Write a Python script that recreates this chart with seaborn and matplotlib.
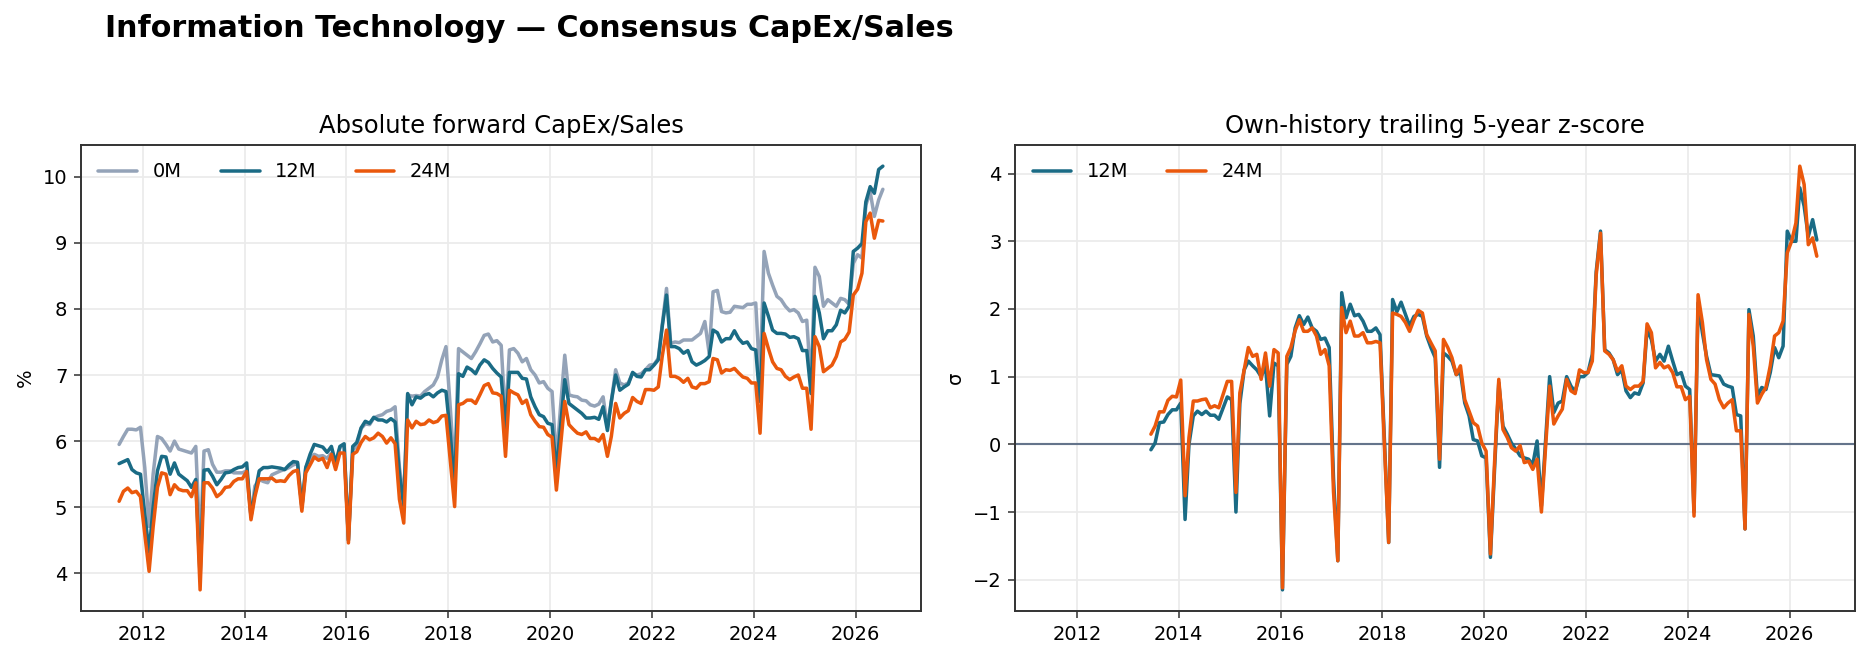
import pandas as pd
import matplotlib
matplotlib.use("Agg")
import matplotlib.pyplot as plt
import matplotlib.dates as mdates
import seaborn as sns

# monthly observations, mid-month, Jul-2011 .. Jul-2026 (one row = 12 months from July)
start = "2011-07-01"
n_months = 181
z_start_idx = 23  # trailing z-score needs 2 years of history -> Jun-2013

capex_0m = [
    5.95, 6.07, 6.18, 6.18, 6.17, 6.21, 5.60, 4.71, 5.50, 6.07, 6.04, 5.95,
    5.85, 6.00, 5.88, 5.86, 5.84, 5.82, 5.92, 4.40, 5.85, 5.87, 5.65, 5.53,
    5.53, 5.55, 5.55, 5.52, 5.52, 5.52, 5.55, 4.86, 5.32, 5.42, 5.39, 5.37,
    5.49, 5.52, 5.55, 5.57, 5.60, 5.64, 5.66, 5.00, 5.60, 5.74, 5.80, 5.77,
    5.78, 5.74, 5.82, 5.62, 5.90, 5.95, 4.50, 5.87, 5.92, 6.19, 6.26, 6.25,
    6.35, 6.38, 6.40, 6.45, 6.47, 6.52, 5.60, 5.12, 6.70, 6.68, 6.69, 6.68,
    6.75, 6.80, 6.85, 6.97, 7.23, 7.43, 6.50, 5.50, 7.40, 7.35, 7.30, 7.25,
    7.35, 7.47, 7.60, 7.62, 7.50, 7.52, 7.45, 6.30, 7.38, 7.40, 7.33, 7.20,
    7.25, 7.08, 7.00, 6.88, 6.90, 6.80, 6.75, 5.70, 6.50, 7.30, 6.70, 6.68,
    6.67, 6.62, 6.61, 6.55, 6.53, 6.56, 6.67, 6.21, 6.60, 7.08, 6.88, 6.85,
    6.88, 7.03, 7.00, 7.02, 7.08, 7.15, 7.16, 7.25, 7.75, 8.31, 7.48, 7.50,
    7.49, 7.53, 7.53, 7.53, 7.58, 7.63, 7.81, 7.33, 8.26, 8.28, 7.96, 7.94,
    7.95, 8.04, 8.03, 8.02, 8.07, 8.07, 8.09, 6.90, 8.87, 8.54, 8.36, 8.19,
    8.14, 8.04, 7.97, 7.99, 7.94, 7.81, 7.83, 6.85, 8.63, 8.49, 8.04, 8.14,
    8.09, 8.04, 8.16, 8.14, 8.07, 8.69, 8.82, 8.77, 9.57, 9.77, 9.40, 9.65,
    9.81,
]

capex_12m = [
    5.66, 5.69, 5.72, 5.57, 5.52, 5.50, 4.90, 4.32, 5.00, 5.55, 5.77, 5.76,
    5.50, 5.67, 5.50, 5.45, 5.40, 5.30, 5.42, 3.95, 5.56, 5.57, 5.47, 5.34,
    5.42, 5.52, 5.53, 5.57, 5.60, 5.61, 5.67, 4.86, 5.21, 5.55, 5.60, 5.60,
    5.61, 5.60, 5.59, 5.57, 5.64, 5.69, 5.68, 5.00, 5.60, 5.80, 5.95, 5.93,
    5.91, 5.83, 5.92, 5.67, 5.92, 5.96, 4.50, 5.92, 5.98, 6.20, 6.30, 6.27,
    6.36, 6.32, 6.32, 6.29, 6.34, 6.29, 5.50, 5.01, 6.72, 6.55, 6.67, 6.65,
    6.70, 6.72, 6.67, 6.73, 6.77, 6.75, 6.10, 5.30, 7.02, 6.98, 7.12, 7.08,
    7.02, 7.15, 7.23, 7.19, 7.10, 7.03, 6.97, 6.20, 7.04, 7.04, 7.04, 6.95,
    6.94, 6.67, 6.52, 6.40, 6.37, 6.27, 6.25, 5.55, 6.20, 6.93, 6.57, 6.52,
    6.47, 6.42, 6.35, 6.35, 6.36, 6.33, 6.52, 6.16, 6.60, 7.00, 6.77, 6.82,
    6.86, 7.04, 6.98, 6.97, 7.08, 7.08, 7.15, 7.23, 7.73, 8.21, 7.43, 7.43,
    7.40, 7.33, 7.37, 7.20, 7.15, 7.18, 7.22, 7.28, 7.68, 7.64, 7.50, 7.55,
    7.55, 7.67, 7.55, 7.48, 7.50, 7.40, 7.38, 6.60, 8.09, 7.89, 7.68, 7.63,
    7.63, 7.62, 7.57, 7.58, 7.55, 7.37, 7.37, 6.72, 8.19, 7.94, 7.55, 7.67,
    7.67, 7.76, 7.98, 7.94, 8.04, 8.87, 8.92, 8.99, 9.62, 9.85, 9.75, 10.11,
    10.16,
]

capex_24m = [
    5.09, 5.24, 5.29, 5.22, 5.24, 5.16, 4.60, 4.03, 4.70, 5.30, 5.52, 5.50,
    5.19, 5.34, 5.27, 5.25, 5.25, 5.16, 5.37, 3.75, 5.37, 5.37, 5.29, 5.16,
    5.21, 5.30, 5.31, 5.39, 5.43, 5.43, 5.54, 4.81, 5.16, 5.43, 5.43, 5.43,
    5.44, 5.39, 5.40, 5.39, 5.48, 5.54, 5.56, 4.94, 5.52, 5.64, 5.76, 5.71,
    5.74, 5.60, 5.80, 5.57, 5.82, 5.82, 4.46, 5.80, 5.84, 5.98, 6.07, 6.02,
    6.05, 6.12, 6.07, 5.97, 6.05, 5.96, 5.12, 4.76, 6.32, 6.20, 6.30, 6.25,
    6.26, 6.32, 6.28, 6.30, 6.38, 6.39, 5.70, 5.01, 6.55, 6.57, 6.62, 6.62,
    6.57, 6.70, 6.84, 6.87, 6.73, 6.72, 6.68, 5.77, 6.77, 6.73, 6.70, 6.57,
    6.62, 6.40, 6.30, 6.22, 6.21, 6.10, 6.06, 5.26, 5.90, 6.60, 6.25, 6.18,
    6.12, 6.10, 6.14, 6.04, 6.04, 6.00, 6.10, 5.77, 6.07, 6.57, 6.35, 6.42,
    6.46, 6.66, 6.60, 6.57, 6.78, 6.78, 6.77, 6.82, 7.28, 7.68, 6.98, 6.98,
    6.95, 6.89, 6.95, 6.82, 6.80, 6.87, 6.87, 6.90, 7.25, 7.23, 7.03, 7.08,
    7.07, 7.10, 7.03, 6.97, 6.95, 6.88, 6.88, 6.12, 7.63, 7.40, 7.20, 7.10,
    7.08, 6.98, 6.93, 6.97, 7.00, 6.80, 6.80, 6.18, 7.58, 7.43, 7.05, 7.10,
    7.15, 7.28, 7.50, 7.54, 7.65, 8.21, 8.30, 8.54, 9.32, 9.45, 9.07, 9.34,
    9.33,
]

# own-history trailing 5y z-score, Jun-2013 .. Jul-2026
zscore_12m = [
    -0.08, 0.02, 0.32, 0.33, 0.44, 0.51, 0.51, 0.61, -1.11, 0.00, 0.42, 0.49,
    0.44, 0.49, 0.43, 0.43, 0.37, 0.54, 0.70, 0.66, -1.00, 0.60, 1.10, 1.23,
    1.16, 1.10, 1.00, 1.16, 0.42, 1.20, 1.16, -2.15, 1.18, 1.30, 1.72, 1.90,
    1.77, 1.88, 1.72, 1.67, 1.55, 1.57, 1.43, -0.50, -1.72, 2.24, 1.87, 2.07,
    1.90, 1.92, 1.82, 1.67, 1.67, 1.72, 1.62, 0.10, -1.45, 2.14, 1.96, 2.10,
    1.92, 1.75, 1.89, 1.92, 1.89, 1.60, 1.43, 1.28, -0.34, 1.35, 1.30, 1.23,
    1.03, 1.06, 0.61, 0.42, 0.07, 0.05, -0.17, -0.20, -1.67, -0.40, 0.91, 0.27,
    0.15, 0.02, -0.07, -0.17, -0.20, -0.22, -0.30, 0.05, -0.91, 0.00, 1.00, 0.47,
    0.61, 0.64, 1.00, 0.86, 0.78, 1.00, 1.00, 1.06, 1.33, 2.55, 3.15, 1.40,
    1.35, 1.25, 1.03, 1.10, 0.79, 0.69, 0.76, 0.74, 0.91, 1.70, 1.55, 1.23,
    1.33, 1.23, 1.45, 1.23, 1.03, 1.06, 0.86, 0.81, -1.00, 2.09, 1.65, 1.30,
    1.03, 1.02, 1.01, 0.89, 0.86, 0.84, 0.44, 0.42, -1.25, 1.99, 1.60, 0.71,
    0.84, 0.81, 1.06, 1.43, 1.28, 1.45, 3.15, 3.00, 3.00, 3.79, 3.52, 3.07,
    3.32, 3.02,
]

zscore_24m = [
    0.15, 0.27, 0.48, 0.48, 0.65, 0.71, 0.70, 0.95, -0.76, 0.10, 0.64, 0.64,
    0.66, 0.67, 0.54, 0.57, 0.54, 0.74, 0.93, 0.93, -0.71, 0.76, 1.10, 1.43,
    1.30, 1.33, 0.96, 1.35, 0.86, 1.40, 1.35, -2.12, 1.30, 1.43, 1.68, 1.84,
    1.67, 1.67, 1.72, 1.60, 1.33, 1.40, 1.16, -0.70, -1.72, 2.02, 1.65, 1.82,
    1.60, 1.60, 1.65, 1.50, 1.50, 1.52, 1.50, 0.00, -1.45, 1.94, 1.92, 1.89,
    1.80, 1.67, 1.84, 1.98, 1.94, 1.62, 1.50, 1.38, -0.22, 1.55, 1.43, 1.28,
    1.03, 1.16, 0.66, 0.49, 0.32, 0.27, 0.02, -0.10, -1.62, -0.30, 0.96, 0.22,
    0.10, -0.05, -0.10, -0.02, -0.27, -0.25, -0.37, -0.22, -1.00, -0.10, 0.86, 0.30,
    0.42, 0.52, 0.96, 0.79, 0.75, 1.10, 1.06, 1.06, 1.23, 2.50, 3.12, 1.38,
    1.33, 1.25, 1.08, 1.16, 0.86, 0.81, 0.86, 0.86, 0.93, 1.78, 1.65, 1.13,
    1.21, 1.13, 1.16, 1.06, 0.85, 0.85, 0.66, 0.71, -1.06, 2.21, 1.80, 1.25,
    0.96, 0.89, 0.66, 0.54, 0.61, 0.66, 0.20, 0.20, -1.25, 1.92, 1.45, 0.61,
    0.74, 0.84, 1.16, 1.60, 1.65, 1.82, 2.83, 3.00, 3.27, 4.11, 3.84, 2.95,
    3.05, 2.78,
]

dates = pd.date_range(start, periods=n_months, freq="MS") + pd.Timedelta(days=14)
z_dates = dates[z_start_idx:]

c_0m = "#94a3b8"
c_12m = "#1a6b85"
c_24m = "#ea580c"

sns.set_style("ticks")
plt.rcParams["font.family"] = ["DejaVu Sans"]
plt.rcParams.update({
    "text.color": "black",
    "axes.labelcolor": "black",
    "xtick.color": "black",
    "ytick.color": "black",
})

fig = plt.figure(figsize=(1869 / 140, 659 / 140), dpi=140)
ax1 = fig.add_axes([0.0433, 0.0728, 0.4495, 0.7072])
ax2 = fig.add_axes([0.5431, 0.0728, 0.4494, 0.7072], sharex=ax1)

sns.lineplot(x=dates, y=capex_0m, ax=ax1, color=c_0m, lw=1.8, label="0M")
sns.lineplot(x=dates, y=capex_12m, ax=ax1, color=c_12m, lw=1.8, label="12M")
sns.lineplot(x=dates, y=capex_24m, ax=ax1, color=c_24m, lw=1.8, label="24M")

ax2.axhline(0, color="#64748b", lw=1.1, zorder=1)
sns.lineplot(x=z_dates, y=zscore_12m, ax=ax2, color=c_12m, lw=1.8, label="12M")
sns.lineplot(x=z_dates, y=zscore_24m, ax=ax2, color=c_24m, lw=1.8, label="24M")

ax1.set_title("Absolute forward CapEx/Sales", fontsize=12.5)
ax2.set_title("Own-history trailing 5-year z-score", fontsize=12.5)
ax1.set_ylabel("%")
ax2.set_ylabel("σ")

for ax, nc in [(ax1, 3), (ax2, 2)]:
    ax.set_xlabel("")
    ax.grid(True, color="#ebebeb", lw=0.9)
    ax.set_axisbelow(True)
    ax.xaxis.set_major_locator(mdates.YearLocator(2))
    ax.xaxis.set_major_formatter(mdates.DateFormatter("%Y"))
    for s in ax.spines.values():
        s.set_color("#333333")
        s.set_linewidth(1.0)
    ax.tick_params(labelsize=10, color="#333333")
    ax.legend(loc="upper left", ncol=nc, frameon=False, fontsize=10)

fig.text(0.056, 0.956, "Information Technology — Consensus CapEx/Sales",
         fontsize=15.5, fontweight="bold", ha="left", va="center")

fig.savefig("out.png", dpi=140)
